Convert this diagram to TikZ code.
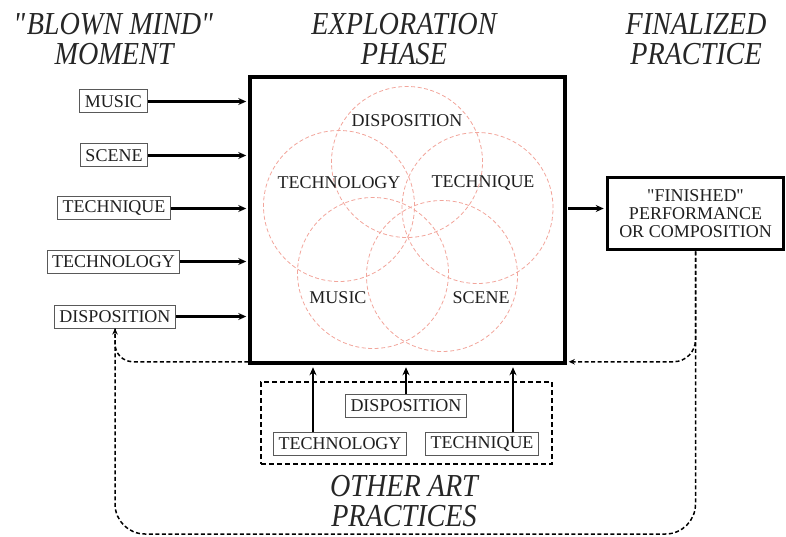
\documentclass[tikz,border=0pt]{standalone}
\usepackage{fontspec}
\setmainfont{Liberation Serif}
\newfontfamily\headfont[FakeStretch=0.88]{Liberation Serif}
\usetikzlibrary{arrows.meta,calc}
\definecolor{venncol}{RGB}{242,165,155}
\begin{document}
\begin{tikzpicture}[x=1pt,y=-1pt,
  txt/.style={font=\fontsize{18}{18}\selectfont, text=black!88},
  sbox/.style={txt, draw=black!65, line width=1pt, minimum height=23pt, inner xsep=5pt, inner ysep=0pt},
  head/.style={font=\headfont\fontsize{32}{30}\selectfont\itshape, align=center, text=black!85},
  venn/.style={circle, draw=venncol, line width=0.8pt, dash pattern=on 4pt off 2.5pt, minimum size=151pt, inner sep=0pt},
  arr/.style={line width=2.2pt, -{Stealth[length=8pt,width=7pt]}},
  fb/.style={line width=1.5pt, dash pattern=on 4pt off 2.5pt, -{Stealth[length=6pt,width=5.5pt]}},
  fbl/.style={line width=1.5pt, dash pattern=on 4pt off 2.5pt},
  bigbox/.style={draw, line width=3.5pt, inner sep=0pt}
]
\useasboundingbox (0,0) rectangle (786,537);

% headings
\node[head] (h1) at (114,39) {\textquotedbl BLOWN MIND\textquotedbl\\MOMENT};
\node[head] (h2) at (404,39) {EXPLORATION\\PHASE};
\node[head] (h3) at (696,39) {FINALIZED\\PRACTICE};
\node[head] (h4) at (404,501) {OTHER ART\\PRACTICES};

% venn circles
\node[venn] (cdisp) at (407,162) {};
\node[venn] (ctechn) at (339,206) {};
\node[venn] (ctechq) at (477.5,208) {};
\node[venn] (cmusic) at (373,273) {};
\node[venn] (cscene) at (442,276) {};
\node[txt] (vdisp) at (407,121) {DISPOSITION};
\node[txt] (vtechn) at (339,183) {TECHNOLOGY};
\node[txt] (vtechq) at (483,183) {TECHNIQUE};
\node[txt] (vmusic) at (338,298) {MUSIC};
\node[txt] (vscene) at (481,298) {SCENE};

% main box
\node[bigbox, minimum width=315pt, minimum height=286pt] (main) at (407.5,220) {};

% left boxes
\node[sbox] (lmusic) at (113.5,101.5) {MUSIC};
\node[sbox] (lscene) at (114,155.5) {SCENE};
\node[sbox] (ltechq) at (114,208.5) {TECHNIQUE};
\node[sbox] (ltechn) at (113.5,261.5) {TECHNOLOGY};
\node[sbox] (ldisp) at (115,316.5) {DISPOSITION};

\foreach \n in {lmusic,lscene,ltechq,ltechn,ldisp}
  \draw[arr, shorten >=2pt] (\n.east) -- (\n.east -| main.west);

% finished
\node[bigbox, txt, align=center, minimum width=176pt, minimum height=72pt] (fin) at (695.5,213.5)
  {\textquotedbl FINISHED\textquotedbl\\PERFORMANCE\\OR COMPOSITION};
\draw[arr, shorten <=1.5pt, shorten >=2pt] ([yshift=5pt]fin.west -| main.east) -- ([yshift=5pt]fin.west);

% other art practices
\node[draw, line width=1.6pt, dash pattern=on 5pt off 3pt, minimum width=291pt, minimum height=82pt, inner sep=0pt] (oap) at (406.5,423) {};
\node[sbox] (bdisp) at (406,405.5) {DISPOSITION};
\node[sbox] (btechn) at (340,443.5) {TECHNOLOGY};
\node[sbox] (btechq) at (482,443.5) {TECHNIQUE};
\draw[arr, shorten >=2.5pt] (bdisp.north) -- (bdisp.north |- main.south);
\draw[arr, shorten >=2.5pt] ([xshift=-27pt]btechn.north) -- ([xshift=-27pt]btechn.north |- main.south);
\draw[arr, shorten >=2.5pt] ([xshift=31pt]btechq.north) -- ([xshift=31pt]btechq.north |- main.south);

% feedback loops
\coordinate (bot) at (0,534);
\draw[fb, rounded corners=22pt, shorten >=2pt] (fin.south) |- ([yshift=3pt]main.south east);
\draw[fb, rounded corners=18pt] ([yshift=3pt]main.south west) -| (ldisp.south);
\draw[fbl, rounded corners=30pt] (fin.south) |- (bot -| ldisp.south) -- (ldisp.south);
\end{tikzpicture}
\end{document}
